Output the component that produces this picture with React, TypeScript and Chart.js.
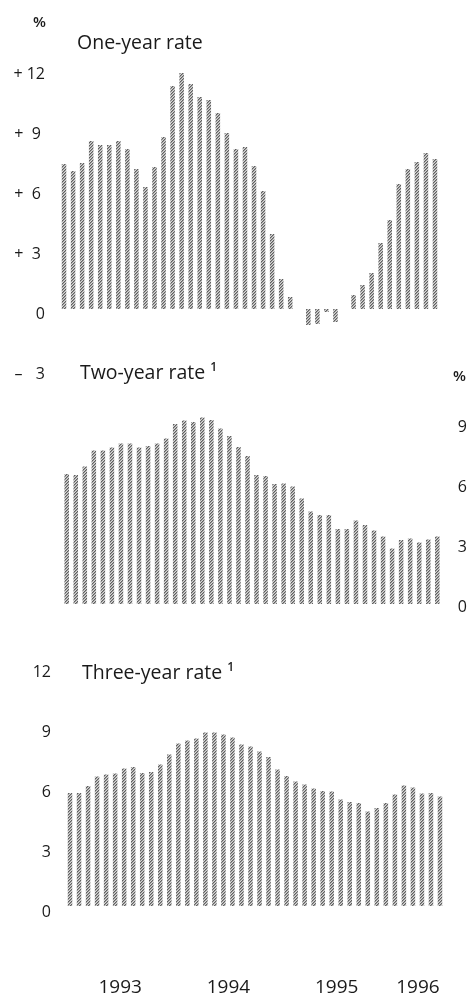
import React, { useEffect, useRef } from 'react';
import { Chart, registerables } from 'chart.js';

Chart.register(...registerables);

// ---- data ----
const months = [
  'Jan 1993', 'Feb 1993', 'Mar 1993', 'Apr 1993', 'May 1993', 'Jun 1993',
  'Jul 1993', 'Aug 1993', 'Sep 1993', 'Oct 1993', 'Nov 1993', 'Dec 1993',
  'Jan 1994', 'Feb 1994', 'Mar 1994', 'Apr 1994', 'May 1994', 'Jun 1994',
  'Jul 1994', 'Aug 1994', 'Sep 1994', 'Oct 1994', 'Nov 1994', 'Dec 1994',
  'Jan 1995', 'Feb 1995', 'Mar 1995', 'Apr 1995', 'May 1995', 'Jun 1995',
  'Jul 1995', 'Aug 1995', 'Sep 1995', 'Oct 1995', 'Nov 1995', 'Dec 1995',
  'Jan 1996', 'Feb 1996', 'Mar 1996', 'Apr 1996', 'May 1996', 'Jun 1996',
];

const yearTickIndex = [6, 18, 30, 39];
const yearTickText = ['1993', '1994', '1995', '1996'];

const oneYearRate = [
  7.25, 6.9, 7.3, 8.4, 8.2, 8.2, 8.4, 8.0, 7.0, 6.1,
  7.1, 8.6, 11.15, 11.8, 11.25, 10.6, 10.45, 9.8, 8.8, 8.0,
  8.1, 7.15, 5.9, 3.75, 1.5, 0.6, 0, -0.8, -0.75, -0.15,
  -0.65, 0, 0.7, 1.2, 1.8, 3.3, 4.45, 6.25, 7.0, 7.35, 7.8, 7.5,
];

const twoYearRate = [
  6.5, 6.45, 6.87, 7.67, 7.67, 7.83, 8.03, 8.03, 7.83, 7.9,
  8.03, 8.28, 9.0, 9.17, 9.1, 9.33, 9.2, 8.78, 8.4, 7.85,
  7.4, 6.45, 6.4, 6.0, 6.03, 5.87, 5.28, 4.62, 4.45, 4.45,
  3.75, 3.75, 4.17, 3.95, 3.67, 3.37, 2.78, 3.2, 3.28, 3.08, 3.23, 3.37,
];

const threeYearRate = [
  5.65, 5.65, 6.0, 6.48, 6.57, 6.62, 6.87, 6.95, 6.65, 6.7,
  7.07, 7.57, 8.12, 8.28, 8.37, 8.67, 8.67, 8.57, 8.42, 8.08,
  7.98, 7.73, 7.45, 6.82, 6.5, 6.23, 6.07, 5.87, 5.75, 5.73,
  5.33, 5.2, 5.15, 4.73, 4.9, 5.15, 5.58, 6.03, 5.92, 5.62, 5.65, 5.48,
];

const oneYearTicks = [-3, 0, 3, 6, 9, 12];
const oneYearTickText = ['\u2013\u2007 3', '0', '+  3\u2008', '+  6\u2008', '+  9\u2008', '+ 12'];
const twoYearTicks = [0, 3, 6, 9];
const twoYearTickText = ['0', '3', '6', '9'];
const threeYearTicks = [0, 3, 6, 9, 12];
const threeYearTickText = ['0', '3', '6', '9', '12'];

// ---- styling ----
const FONT = '"Open Sans", "Noto Sans", sans-serif';
const TEXT = '#1a1a1a';
const W = 467;
const H = 997;

function makePattern(): CanvasPattern | string {
  const c = document.createElement('canvas');
  c.width = 6;
  c.height = 6;
  const ctx = c.getContext('2d');
  if (!ctx) return '#8c8c8c';
  const img = ctx.createImageData(6, 6);
  const shades = [95, 160, 215];
  for (let y = 0; y < 6; y++) {
    for (let x = 0; x < 6; x++) {
      const s = shades[(x + y) % 3];
      const k = (y * 6 + x) * 4;
      img.data[k] = s;
      img.data[k + 1] = s;
      img.data[k + 2] = s;
      img.data[k + 3] = 255;
    }
  }
  ctx.putImageData(img, 0, 0);
  return ctx.createPattern(c, 'repeat') || '#8c8c8c';
}

function yAxis(o: {
  position: 'left' | 'right';
  min: number;
  max: number;
  values: number[];
  texts: string[];
  width: number;
  padding: number;
  labelOffset: number;
}) {
  return {
    position: o.position,
    min: o.min,
    max: o.max,
    afterBuildTicks: (s: any) => {
      s.ticks = o.values.map((v) => ({ value: v }));
    },
    afterFit: (s: any) => {
      s.width = o.width;
    },
    grid: { display: false, drawTicks: false },
    border: { display: false },
    ticks: {
      padding: o.padding,
      labelOffset: o.labelOffset,
      color: TEXT,
      font: { family: FONT, size: 16 },
      callback: (v: any) => {
        const i = o.values.indexOf(Number(v));
        return i >= 0 ? o.texts[i] : '';
      },
    },
  };
}

function makeChart(
  canvas: HTMLCanvasElement,
  values: number[],
  pattern: CanvasPattern | string,
  padding: { left: number; right: number; top: number; bottom: number },
  y: any,
  x: any,
) {
  return new Chart(canvas, {
    type: 'bar',
    data: {
      labels: months,
      datasets: [
        {
          data: values,
          backgroundColor: pattern as any,
          borderWidth: 0,
          barPercentage: 0.5,
          categoryPercentage: 1.0,
        },
      ],
    },
    options: {
      responsive: false,
      animation: false,
      events: [],
      layout: { padding },
      plugins: {
        legend: { display: false },
        tooltip: { enabled: false },
        title: { display: false },
      },
      scales: { x, y },
    } as any,
  });
}

const hiddenX = { type: 'category', display: false, offset: true };

export default function App() {
  const c1 = useRef<HTMLCanvasElement>(null);
  const c2 = useRef<HTMLCanvasElement>(null);
  const c3 = useRef<HTMLCanvasElement>(null);

  useEffect(() => {
    if (!c1.current || !c2.current || !c3.current) return;
    const pattern = makePattern();
    const charts: Chart[] = [];

    charts.push(
      makeChart(
        c1.current,
        oneYearRate,
        pattern,
        { left: 0, right: 27.5, top: 69, bottom: 628 },
        yAxis({
          position: 'left', min: -3, max: 12, values: oneYearTicks, texts: oneYearTickText,
          width: 59.5, padding: 14.5, labelOffset: 5,
        }),
        hiddenX,
      ),
    );

    charts.push(
      makeChart(
        c2.current,
        twoYearRate,
        pattern,
        { left: 62.2, right: 0, top: 404, bottom: 393 },
        yAxis({
          position: 'right', min: 0, max: 10, values: twoYearTicks, texts: twoYearTickText,
          width: 25.2, padding: 16, labelOffset: 3,
        }),
        hiddenX,
      ),
    );

    charts.push(
      makeChart(
        c3.current,
        threeYearRate,
        pattern,
        { left: 0, right: 22.5, top: 666, bottom: 0 },
        yAxis({
          position: 'left', min: 0, max: 12, values: threeYearTicks, texts: threeYearTickText,
          width: 65.5, padding: 14.5, labelOffset: 6,
        }),
        {
          type: 'category',
          offset: true,
          afterFit: (s: any) => {
            s.height = H - 906;
            s.paddingLeft = 0;
            s.paddingRight = 0;
          },
          grid: { display: false, drawTicks: false },
          border: { display: false },
          ticks: {
            autoSkip: false,
            maxRotation: 0,
            minRotation: 0,
            padding: 70,
            labelOffset: -4,
            color: TEXT,
            font: { family: FONT, size: 19 },
            callback: (_v: any, i: number) => {
              const k = yearTickIndex.indexOf(i);
              return k >= 0 ? yearTickText[k] : '';
            },
          },
        },
      ),
    );

    return () => charts.forEach((c) => c.destroy());
  }, []);

  const canvasStyle: React.CSSProperties = {
    position: 'absolute', left: 0, top: 0, width: W, height: H, display: 'block',
  };
  const titleSize = 19.5;
  const title = (left: number, baseline: number): React.CSSProperties => ({
    position: 'absolute',
    left,
    top: baseline - 0.888 * titleSize,
    fontFamily: FONT,
    fontSize: titleSize,
    lineHeight: `${titleSize}px`,
    color: TEXT,
    whiteSpace: 'nowrap',
  });
  const sup: React.CSSProperties = {
    fontSize: 12,
    position: 'relative',
    top: -8,
    marginLeft: 5,
    fontWeight: 600,
  };
  const pct = (left: number, top: number): React.CSSProperties => ({
    position: 'absolute',
    left,
    top,
    fontFamily: FONT,
    fontSize: 15,
    lineHeight: '15px',
    fontWeight: 600,
    color: TEXT,
  });

  return (
    <div style={{ position: 'absolute', left: 0, top: 0, width: W, height: H, overflow: 'hidden', background: '#fff' }}>
      <canvas ref={c1} width={W} height={H} style={canvasStyle} />
      <canvas ref={c2} width={W} height={H} style={canvasStyle} />
      <canvas ref={c3} width={W} height={H} style={canvasStyle} />
      <div style={pct(33, 14)}>%</div>
      <div style={title(77, 49)}>One-year rate</div>
      <div style={title(80, 379)}>
        Two-year rate<span style={sup}>1</span>
      </div>
      <div style={pct(453, 368)}>%</div>
      <div style={title(82, 679)}>
        Three-year rate<span style={sup}>1</span>
      </div>
    </div>
  );
}
